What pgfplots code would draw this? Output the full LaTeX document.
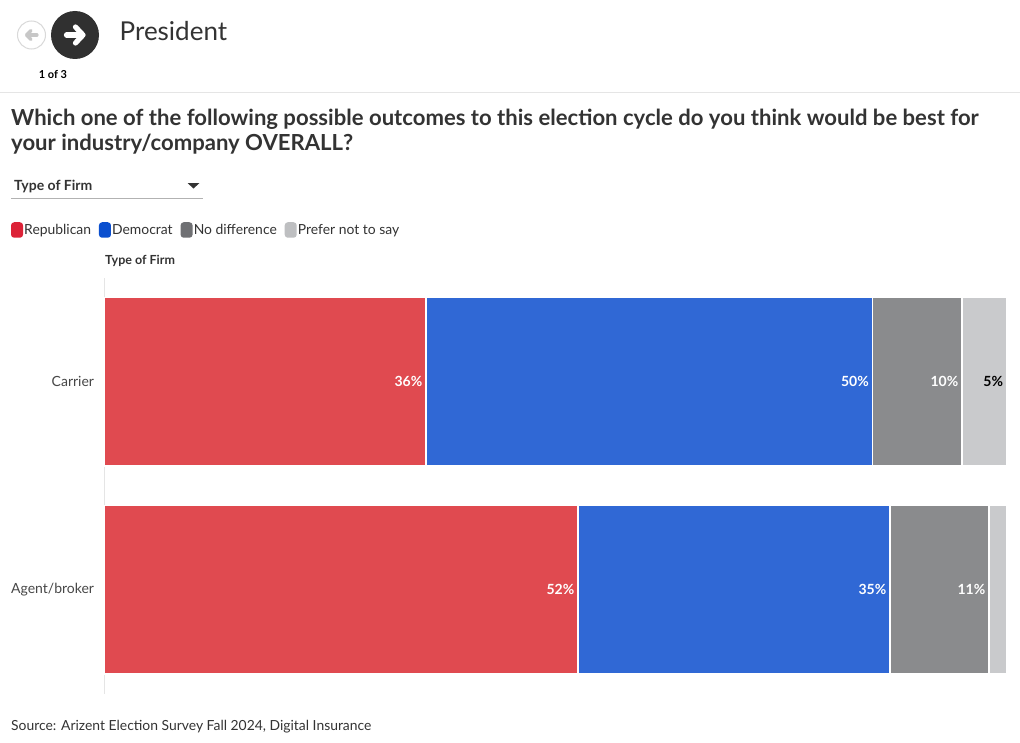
\documentclass[border=0pt]{standalone}
\usepackage{fontspec}
\setmainfont{Lato}
\usepackage{pgfplots}
\pgfplotsset{compat=1.18}
\definecolor{txt}{HTML}{333333}
\definecolor{barred}{HTML}{E04A50}
\definecolor{barblue}{HTML}{3068D5}
\definecolor{bargray}{HTML}{8A8B8D}
\definecolor{barlight}{HTML}{C9CACC}
\definecolor{legred}{HTML}{DC2237}
\definecolor{legblue}{HTML}{0A4FCF}
\definecolor{leggray}{HTML}{6F7073}
\definecolor{leglight}{HTML}{BEBFC1}
\newcommand{\fs}[1]{\fontsize{#1bp}{#1bp}\selectfont}
\pgfplotsset{
  swatch/.style={legend image code/.code={
    \fill[#1,rounded corners=2.5bp] (0bp,-7bp) rectangle (10.5bp,7bp);}},
  seg/.style={draw=white,line width=1.5bp,fill=#1},
}
\begin{document}
\begin{tikzpicture}[x=1bp,y=-1bp]
\path[use as bounding box,fill=white] (0,0) rectangle (1020,743);
% header
\draw[draw=black!10,line width=1bp] (0,92.5) -- (1020,92.5);
\draw[draw=black!15,fill=white,line width=1bp] (31.5,35) circle (14bp);
\draw[black!22,line width=3.2bp,line cap=round] (37,35) -- (27,35);
\draw[black!22,line width=3.2bp,line cap=round,line join=round] (31,30.5) -- (26.5,35) -- (31,39.5);
\fill[txt!95!black] (75,35) circle (24bp);
\draw[white,line width=5.2bp,line cap=round] (66.5,35) -- (81,35);
\draw[white,line width=5.2bp,line cap=round,line join=round] (75.5,27) -- (83,35) -- (75.5,43);
\node[anchor=base,font=\fs{11}\bfseries,text=black] at (53,78.5) {1 of 3};
\node[anchor=base west,inner sep=0,font=\fs{26},text=txt] at (119.5,40.5) {President};
% question
\node[anchor=base west,inner sep=0,font=\fs{22.1}\bfseries,text=txt] at (11,125) {Which one of the following possible outcomes to this election cycle do you think would be best for};
\node[anchor=base west,inner sep=0,font=\fs{22.1}\bfseries,text=txt] at (11,150.5) {your industry/company OVERALL?};
% dropdown
\node[anchor=base west,inner sep=0,font=\fs{14}\bfseries,text=txt] at (14,190.5) {Type of Firm};
\fill[txt] (187.5,183) -- (199.5,183) -- (193.5,188.5) -- cycle;
\draw[black!30,line width=1bp] (11,198.5) -- (203,198.5);
\node[anchor=base west,inner sep=0,font=\fs{12.5}\bfseries,text=txt] at (105,264) {Type of Firm};
\node[anchor=base west,inner sep=0,font=\fs{13.9},text=txt] at (11,730) {Source: Arizent Election Survey Fall 2024, Digital Insurance};
\begin{axis}[
  at={(104.25bp,-693.5bp)}, anchor=south west,
  scale only axis, width=902.5bp, height=416bp,
  xbar stacked, bar width=168.5bp,
  xmin=0, xmax=100, ymin=-0.5, ymax=1.5,
  axis x line=none,
  axis y line*=left,
  y axis line style={-,draw=black!10,line width=1bp},
  ytick={0,1}, yticklabels={Agent/broker,Carrier},
  tick style={draw=black!10,line width=1bp},
  major tick length=6bp,
  yticklabel style={font=\fs{14},text=txt!90!white,inner xsep=0pt,xshift=-10bp},
  point meta=explicit symbolic,
  visualization depends on={\thisrow{v} \as \segval},
  nodes near coords,
  nodes near coords align={anchor=east},
  nodes near coords style={font=\fs{14}\bfseries,text=white,inner xsep=3bp,xshift=\segval*4.5125bp},
  clip=false,
  legend columns=-1,
  legend style={at={(-0.1035,1.1142)},anchor=west,draw=none,fill=none,inner sep=0pt,
    font=\fs{13.9},text=txt,
    /tikz/every even column/.append style={column sep=6.7bp},
    nodes={inner xsep=1.2bp,inner ysep=0pt}},
]
\addplot+[seg=barred,swatch=legred] table[x=v,y=y,meta=lab,col sep=comma] {
v,y,lab
52.49,0,52\%
35.65,1,36\%
};
\addplot+[seg=barblue,swatch=legblue] table[x=v,y=y,meta=lab,col sep=comma] {
v,y,lab
34.57,0,35\%
49.47,1,50\%
};
\addplot+[seg=bargray,swatch=leggray] table[x=v,y=y,meta=lab,col sep=comma] {
v,y,lab
10.97,0,11\%
9.92,1,10\%
};
\addplot+[seg=barlight,swatch=leglight,nodes near coords style={text=black}] table[x=v,y=y,meta=lab,col sep=comma] {
v,y,lab
1.97,0,
4.96,1,5\%
};
\legend{Republican,Democrat,No difference,Prefer not to say}
\end{axis}
\end{tikzpicture}
\end{document}
